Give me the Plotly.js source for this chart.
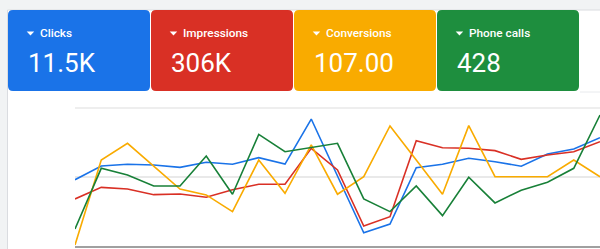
<!DOCTYPE html>
<html>
<head>
<meta charset="utf-8">
<script src="https://cdn.plot.ly/plotly-3.0.1.min.js"></script>
<style>
html,body{margin:0;padding:0;background:#f1f3f4;overflow:hidden;}
#chart{width:600px;height:249px;}
</style>
</head>
<body>
<div id="chart"></div>
<script>
// ---- data (normalized 0-100 per metric, as drawn in the overview chart) ----
const days = ['Mar 1','Mar 2','Mar 3','Mar 4','Mar 5','Mar 6','Mar 7','Mar 8','Mar 9','Mar 10','Mar 11',
              'Mar 12','Mar 13','Mar 14','Mar 15','Mar 16','Mar 17','Mar 18','Mar 19','Mar 20','Mar 21'];
const clicks      = [48.0, 58.0, 59.2, 58.7, 57.0, 60.7, 59.2, 64.0, 59.4, 92.0, 50.7, 9.6, 15.9, 56.7, 59.2, 63.6, 61.1, 57.8, 66.7, 70.3, 78.5];
const impressions = [34.1, 42.5, 41.3, 37.2, 37.7, 35.3, 40.8, 44.7, 44.7, 70.8, 55.1, 14.5, 21.2, 76.3, 71.2, 70.8, 69.1, 62.8, 65.9, 68.3, 75.6];
const conversions = [0.7, 62.3, 74.4, 58.0, 41.3, 37.0, 24.9, 62.3, 38.2, 73.2, 37.5, 50.2, 87.0, 62.3, 37.5, 87.2, 50.2, 50.2, 50.2, 62.3, 50.2];
const phoneCalls  = [12.3, 56.3, 51.4, 43.5, 43.5, 65.2, 37.5, 80.9, 68.3, 71.4, 74.4, 34.1, 24.9, 43.5, 22.0, 49.8, 31.2, 40.4, 46.2, 56.3, 94.9];

const cardLabels = ['Clicks', 'Impressions', 'Conversions', 'Phone calls'];
const cardValues = ['11.5K', '306K', '107.00', '428'];
const cardColors = ['#1a73e8', '#d93025', '#f9ab00', '#1e8e3e'];
const lineColors = ['#1a73e8', '#d93025', '#f9ab00', '#188038'];

// ---- geometry helpers (pixel -> paper) ----
const W = 600, H = 249;
const M = {l: 75, r: 0, t: 108, b: 3};
const PW = W - M.l - M.r, PH = H - M.t - M.b;
const X = px => (px - M.l) / PW;
const Y = py => (H - M.b - py) / PH;

function roundRect(x0, y0, x1, y1, r) {
  const p = (a, b) => X(a) + ',' + Y(b);
  return 'M' + p(x0 + r, y0) + ' L' + p(x1 - r, y0) + ' Q' + p(x1, y0) + ' ' + p(x1, y0 + r) +
         ' L' + p(x1, y1 - r) + ' Q' + p(x1, y1) + ' ' + p(x1 - r, y1) +
         ' L' + p(x0 + r, y1) + ' Q' + p(x0, y1) + ' ' + p(x0, y1 - r) +
         ' L' + p(x0, y0 + r) + ' Q' + p(x0, y0) + ' ' + p(x0 + r, y0) + ' Z';
}

const shapes = [];
const annotations = [];

// white panel
shapes.push({type: 'rect', xref: 'paper', yref: 'paper', layer: 'below',
  x0: X(7.5), x1: X(620), y0: Y(10), y1: Y(260),
  fillcolor: '#ffffff', line: {color: '#dadce0', width: 1}});
// divider right of cards
shapes.push({type: 'line', xref: 'paper', yref: 'paper', layer: 'below',
  x0: X(580), x1: X(600), y0: Y(92), y1: Y(92), line: {color: '#e8eaed', width: 1}});
// top gridline of the plot area
shapes.push({type: 'line', xref: 'paper', yref: 'paper', layer: 'below',
  x0: 0, x1: 1, y0: 1, y1: 1, line: {color: '#e9e9e9', width: 1.5}});

const series = [clicks, impressions, conversions, phoneCalls];
cardLabels.forEach((lab, i) => {
  const x0 = 8 + i * 143, x1 = x0 + 142;
  shapes.push({type: 'path', xref: 'paper', yref: 'paper', layer: 'below',
    path: roundRect(x0, 10, x1, 91, 5), fillcolor: cardColors[i], line: {width: 0}});
  const tx = x0 + 18.7;
  shapes.push({type: 'path', xref: 'paper', yref: 'paper', layer: 'above',
    path: 'M' + X(tx) + ',' + Y(31.5) + ' L' + X(tx + 7.5) + ',' + Y(31.5) + ' L' + X(tx + 3.75) + ',' + Y(35.5) + ' Z',
    fillcolor: '#ffffff', line: {width: 0}});
  annotations.push({xref: 'paper', yref: 'paper', x: X(x0 + 30), y: Y(33), xanchor: 'left', yanchor: 'middle',
    showarrow: false, text: lab, font: {family: 'Roboto, Arial, sans-serif', size: 11.8, color: '#ffffff', weight: 500}});
  annotations.push({xref: 'paper', yref: 'paper', x: X(x0 + 17.5), y: Y(62.5), xanchor: 'left', yanchor: 'middle',
    showarrow: false, text: cardValues[i], font: {family: 'Roboto, Arial, sans-serif', size: 26, color: '#ffffff'}});
});

const traces = series.map((s, i) => ({
  type: 'scatter', mode: 'lines', x: days, y: s, name: cardLabels[i],
  line: {color: lineColors[i], width: 1.6}, hoverinfo: 'skip'
}));

const layout = {
  width: W, height: H, margin: {l: M.l, r: M.r, t: M.t, b: M.b, pad: 0},
  paper_bgcolor: '#f1f3f4', plot_bgcolor: 'rgba(0,0,0,0)',
  showlegend: false,
  xaxis: {type: 'category', range: [0, days.length - 1], showgrid: false, zeroline: false,
    showticklabels: false, ticks: '', showline: true, linecolor: '#a0a0a0', linewidth: 1.5, fixedrange: true},
  yaxis: {range: [0, 100], tick0: 0, dtick: 50, showgrid: true, gridcolor: '#e9e9e9', gridwidth: 1.5,
    zeroline: false, showticklabels: false, ticks: '', showline: false, fixedrange: true},
  shapes: shapes,
  annotations: annotations
};

Plotly.newPlot('chart', traces, layout, {displayModeBar: false, staticPlot: true});
</script>
</body>
</html>
